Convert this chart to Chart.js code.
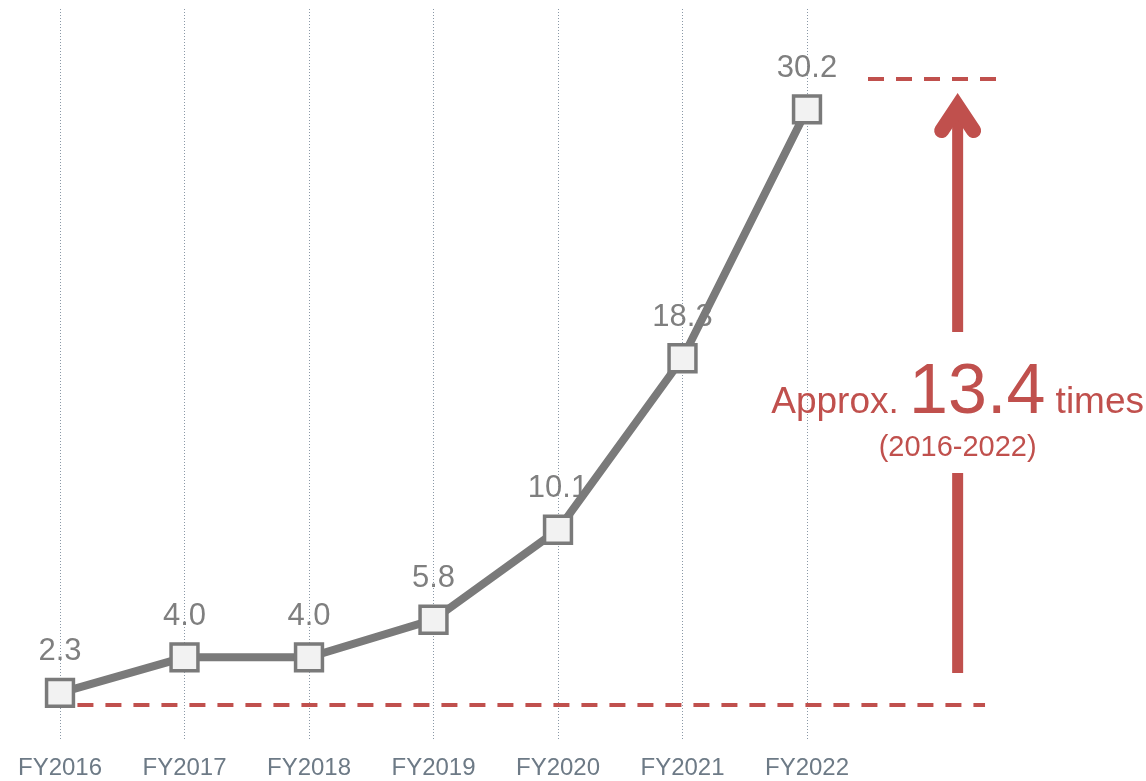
<!DOCTYPE html>
<html>
<head>
<meta charset="utf-8">
<script src="https://cdn.jsdelivr.net/npm/chart.js@4/dist/chart.umd.min.js"></script>
<style>
  html, body { margin: 0; padding: 0; background: #ffffff; }
  #wrap { width: 1146px; height: 781px; position: relative; }
</style>
</head>
<body>
<div id="wrap"><canvas id="chart"></canvas></div>
<script>
// Fiscal years and the metric for each year
const fiscalYears = ['FY2016', 'FY2017', 'FY2018', 'FY2019', 'FY2020', 'FY2021', 'FY2022'];
const yearValues = [2.3, 4.0, 4.0, 5.8, 10.1, 18.3, 30.2];

// Growth callout text
const growthPrefix = 'Approx. ';
const growthMultiple = '13.4';
const growthSuffix = ' times';
const growthPeriod = '(2016-2022)';

// Reference levels (in axis units) for the dashed guide lines and the arrow
const baseGuideLevel = 1.72;
const topGuideLevel = 31.65;
const arrowFromLevel = 3.25;
const arrowToLevel = 31.05;

const RED = '#c0504d';
const GREY = '#7a7a7a';
const FONT = '"Liberation Sans", Arial, sans-serif';

// Value labels above each point, drawn underneath the line
const valueLabels = {
  id: 'valueLabels',
  beforeDatasetsDraw(chart) {
    const ctx = chart.ctx;
    const meta = chart.getDatasetMeta(0);
    ctx.save();
    ctx.fillStyle = '#7f7f7f';
    ctx.font = '31px ' + FONT;
    ctx.textAlign = 'center';
    ctx.textBaseline = 'middle';
    meta.data.forEach((pt, i) => {
      ctx.fillText(yearValues[i].toFixed(1), pt.x, pt.y - 41);
    });
    ctx.restore();
  }
};

// Dashed guides, growth arrow and callout text
const growthCallout = {
  id: 'growthCallout',
  afterDatasetsDraw(chart) {
    const ctx = chart.ctx;
    const xs = chart.scales.x;
    const ys = chart.scales.y;
    const yBase = ys.getPixelForValue(baseGuideLevel);
    const yTop = ys.getPixelForValue(topGuideLevel);
    const ax = xs.getPixelForValue(7.21);

    ctx.save();
    ctx.strokeStyle = RED;
    ctx.fillStyle = RED;

    // dashed guide lines
    ctx.lineWidth = 4;
    ctx.setLineDash([16, 12]);
    ctx.beginPath();
    ctx.moveTo(xs.getPixelForValue(0.14), yBase);
    ctx.lineTo(xs.getPixelForValue(7.43), yBase);
    ctx.stroke();
    ctx.beginPath();
    ctx.moveTo(xs.getPixelForValue(6.49), yTop);
    ctx.lineTo(xs.getPixelForValue(7.53), yTop);
    ctx.stroke();
    ctx.setLineDash([]);

    // arrow shaft, split around the text
    const yFrom = ys.getPixelForValue(arrowFromLevel);
    const yTo = ys.getPixelForValue(arrowToLevel);
    ctx.lineWidth = 11;
    ctx.lineCap = 'butt';
    ctx.beginPath();
    ctx.moveTo(ax, yFrom);
    ctx.lineTo(ax, 473);
    ctx.moveTo(ax, 332);
    ctx.lineTo(ax, yTo + 20);
    ctx.stroke();

    // arrow head
    ctx.lineWidth = 15;
    ctx.lineCap = 'round';
    ctx.lineJoin = 'miter';
    ctx.miterLimit = 10;
    ctx.beginPath();
    ctx.moveTo(ax - 16, yTo + 39);
    ctx.lineTo(ax, yTo + 15);
    ctx.lineTo(ax + 16, yTo + 39);
    ctx.stroke();

    // callout text
    ctx.textBaseline = 'alphabetic';
    ctx.textAlign = 'left';
    const smallFont = '37px ' + FONT;
    const bigFont = '70px ' + FONT;
    ctx.font = smallFont;
    const w1 = ctx.measureText(growthPrefix).width;
    const w3 = ctx.measureText(growthSuffix).width;
    ctx.font = bigFont;
    const w2 = ctx.measureText(growthMultiple).width;
    let x = ax - (w1 + w2 + w3) / 2;
    const base = 413;
    ctx.font = smallFont;
    ctx.fillText(growthPrefix, x, base);
    x += w1;
    ctx.font = bigFont;
    ctx.fillText(growthMultiple, x, base);
    x += w2;
    ctx.font = smallFont;
    ctx.fillText(growthSuffix, x, base);

    ctx.textAlign = 'center';
    ctx.font = '29px ' + FONT;
    ctx.fillText(growthPeriod, ax, 456);
    ctx.restore();
  }
};

new Chart(document.getElementById('chart'), {
  type: 'line',
  data: {
    labels: fiscalYears,
    datasets: [{
      data: yearValues,
      borderColor: GREY,
      borderWidth: 8,
      tension: 0,
      pointStyle: 'rect',
      pointRadius: 19,
      pointHoverRadius: 19,
      pointBackgroundColor: '#f2f2f2',
      pointBorderColor: GREY,
      pointBorderWidth: 3.5
    }]
  },
  options: {
    responsive: true,
    maintainAspectRatio: false,
    animation: false,
    events: [],
    layout: { autoPadding: false, padding: { left: 60, right: 339, top: 9, bottom: 0 } },
    plugins: {
      legend: { display: false },
      tooltip: { enabled: false }
    },
    scales: {
      x: {
        offset: false,
        afterFit: (scale) => { scale.height = 40; },
        grid: { display: true, color: '#8a98a6', lineWidth: 1, drawTicks: false },
        border: { display: false, dash: [1, 2] },
        ticks: { color: '#6d7a86', font: { family: FONT, size: 24 }, padding: 13, maxRotation: 0 }
      },
      y: {
        display: false,
        min: 0,
        max: 35
      }
    }
  },
  plugins: [valueLabels, growthCallout]
});
</script>
</body>
</html>
